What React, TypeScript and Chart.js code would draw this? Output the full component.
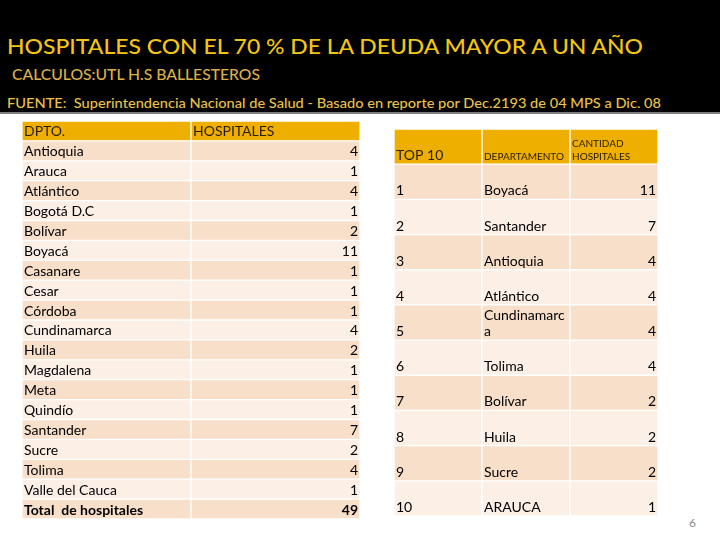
import React, { useEffect, useLayoutEffect, useRef } from "react";
import { Chart, registerables } from "chart.js";

Chart.register(...registerables);

// ---------- data ----------
const TITLE = "HOSPITALES CON EL 70 % DE LA DEUDA MAYOR A UN AÑO";
const SUBTITLE = "CALCULOS:UTL H.S BALLESTEROS";
const SOURCE = "FUENTE:  Superintendencia Nacional de Salud - Basado en reporte por Dec.2193 de 04 MPS a Dic. 08";
const PAGE_NUMBER = "6";

const deptHeaders = ["DPTO.", "HOSPITALES"];
const departments = [
  "Antioquia", "Arauca", "Atlántico", "Bogotá D.C", "Bolívar", "Boyacá",
  "Casanare", "Cesar", "Córdoba", "Cundinamarca", "Huila", "Magdalena",
  "Meta", "Quindío", "Santander", "Sucre", "Tolima", "Valle del Cauca",
];
const hospitals = [4, 1, 4, 1, 2, 11, 1, 1, 1, 4, 2, 1, 1, 1, 7, 2, 4, 1];
const totalLabel = "Total  de hospitales";
const totalValue = 49;

const topHeaders = ["TOP 10", "DEPARTAMENTO", "CANTIDAD HOSPITALES"];
const topRanks = [1, 2, 3, 4, 5, 6, 7, 8, 9, 10];
const topDepartments = [
  "Boyacá", "Santander", "Antioquia", "Atlántico", "Cundinamarca",
  "Tolima", "Bolívar", "Huila", "Sucre", "ARAUCA",
];
const topCounts = [11, 7, 4, 4, 4, 4, 2, 2, 2, 1];

// ---------- styles ----------
const FONT = "Lato, 'Open Sans', sans-serif";
const GOLD = "#eeaf00";
const ROW_DARK = "#f8dfca";
const ROW_LIGHT = "#fbefe6";
const HEADER_TEXT = "#2a1d00";

type CellStyle = { size: number; weight: string; color: string; align: "left" | "right"; lineHeight: number };

type TableSpec = {
  texts: string[][];
  rowColors: string[];
  style: (r: number, c: number) => CellStyle;
  valign: (r: number) => "middle" | "bottom";
  padX: number;
  padBottom: number;
};

function wrapText(ctx: CanvasRenderingContext2D, text: string, maxWidth: number): string[] {
  const words = text.split(" ");
  const lines: string[] = [];
  let line = "";
  for (const word of words) {
    const candidate = line ? line + " " + word : word;
    if (ctx.measureText(candidate).width <= maxWidth) {
      line = candidate;
      continue;
    }
    if (line) lines.push(line);
    // break a long word by characters
    let piece = "";
    for (const ch of word) {
      if (ctx.measureText(piece + ch).width > maxWidth && piece) {
        lines.push(piece);
        piece = ch;
      } else {
        piece += ch;
      }
    }
    line = piece;
  }
  if (line) lines.push(line);
  return lines;
}

function TableChart({ spec, left, top, width, height }: { spec: TableSpec; left: number; top: number; width: number; height: number }) {
  const ref = useRef<HTMLCanvasElement>(null);
  useEffect(() => {
    const canvas = ref.current;
    if (!canvas) return;
    const rows = spec.texts.length;
    const cols = spec.texts[0].length;
    const rowKeys = spec.texts.map((_, r) => `row${r}`);
    const datasets = Array.from({ length: cols }, (_, c) => ({
      label: `col${c}`,
      data: rowKeys.map(() => [c, c + 1]),
      backgroundColor: spec.rowColors,
      borderColor: "#ffffff",
      borderWidth: 1,
      borderSkipped: false,
      grouped: false,
      barPercentage: 1,
      categoryPercentage: 1,
    }));

    const textPlugin = {
      id: "cellText",
      afterDatasetsDraw(chart: any) {
        const ctx: CanvasRenderingContext2D = chart.ctx;
        ctx.save();
        for (let c = 0; c < cols; c++) {
          const meta = chart.getDatasetMeta(c);
          for (let r = 0; r < rows; r++) {
            const el = meta.data[r];
            if (!el) continue;
            const p = el.getProps(["x", "y", "base", "height"], true);
            const x0 = Math.min(p.x, p.base);
            const x1 = Math.max(p.x, p.base);
            const yb = p.y + p.height / 2;
            const st = spec.style(r, c);
            ctx.font = `${st.weight} ${st.size}px ${FONT}`;
            ctx.fillStyle = st.color;
            ctx.textAlign = st.align;
            const tx = st.align === "left" ? x0 + spec.padX : x1 - spec.padX;
            const lines = wrapText(ctx, spec.texts[r][c], x1 - x0 - 2 * spec.padX);
            if (spec.valign(r) === "middle") {
              ctx.textBaseline = "middle";
              const n = lines.length;
              lines.forEach((ln, i) => {
                ctx.fillText(ln, tx, p.y + (i - (n - 1) / 2) * st.lineHeight + 1);
              });
            } else {
              ctx.textBaseline = "alphabetic";
              const n = lines.length;
              lines.forEach((ln, i) => {
                ctx.fillText(ln, tx, yb - spec.padBottom - (n - 1 - i) * st.lineHeight);
              });
            }
          }
        }
        ctx.restore();
      },
    };

    const chart = new Chart(canvas, {
      type: "bar",
      data: { labels: rowKeys, datasets: datasets as any },
      options: {
        indexAxis: "y",
        animation: false,
        responsive: false,
        maintainAspectRatio: false,
        events: [],
        layout: { padding: 0 },
        scales: {
          x: { type: "linear", min: 0, max: cols, display: false },
          y: { type: "category", display: false, offset: true },
        },
        plugins: { legend: { display: false }, tooltip: { enabled: false } },
      } as any,
      plugins: [textPlugin],
    });
    return () => chart.destroy();
  }, [spec]);
  return (
    <canvas
      ref={ref}
      width={width}
      height={height}
      style={{ position: "absolute", left, top, width, height }}
    />
  );
}

function FitText({ text, left, top, width, size, color, weight }: { text: string; left: number; top: number; width: number; size: number; color: string; weight: number | string }) {
  const ref = useRef<HTMLSpanElement>(null);
  useLayoutEffect(() => {
    const el = ref.current;
    if (!el) return;
    el.style.transform = "none";
    const w = el.getBoundingClientRect().width;
    if (w > 0) el.style.transform = `scaleX(${width / w})`;
  }, [text, width]);
  return (
    <span
      ref={ref}
      style={{
        position: "absolute", left, top, fontSize: size, lineHeight: 1, whiteSpace: "pre",
        transformOrigin: "0 0", fontFamily: FONT, color, fontWeight: weight,
      }}
    >
      {text}
    </span>
  );
}

const altColor = (r: number) => (r === 0 ? GOLD : r % 2 === 1 ? ROW_DARK : ROW_LIGHT);

const leftTexts: string[][] = [
  deptHeaders,
  ...departments.map((d, i) => [d, String(hospitals[i])]),
  [totalLabel, String(totalValue)],
];
const leftSpec: TableSpec = {
  texts: leftTexts,
  rowColors: leftTexts.map((_, r) => altColor(r)),
  style: (r, c) => ({
    size: 14,
    weight: r === leftTexts.length - 1 ? "bold" : "normal",
    color: r === 0 ? HEADER_TEXT : "#000000",
    align: r === 0 || c === 0 ? "left" : "right",
    lineHeight: 16,
  }),
  valign: () => "middle",
  padX: 2,
  padBottom: 4,
};

const rightTexts: string[][] = [
  topHeaders,
  ...topRanks.map((rk, i) => [String(rk), topDepartments[i], String(topCounts[i])]),
];
const rightSpec: TableSpec = {
  texts: rightTexts,
  rowColors: rightTexts.map((_, r) => altColor(r)),
  style: (r, c) => {
    if (r === 0) {
      return { size: c === 0 ? 14 : 10, weight: "normal", color: HEADER_TEXT, align: "left", lineHeight: 13 };
    }
    return { size: 14, weight: "normal", color: "#000000", align: c === 2 ? "right" : "left", lineHeight: 16 };
  },
  valign: () => "bottom",
  padX: 2,
  padBottom: 4,
};

export default function App() {
  useEffect(() => {
    const prev = document.body.style.margin;
    document.body.style.margin = "0";
    return () => {
      document.body.style.margin = prev;
    };
  }, []);
  return (
    <div style={{ position: "relative", width: 720, height: 540, background: "#ffffff", overflow: "hidden" }}>
      <div style={{ position: "absolute", left: 0, top: 0, width: 720, height: 112, background: "#000000" }} />
      <div style={{ position: "absolute", left: 0, top: 112, width: 720, height: 2, background: "#7f7f7f" }} />
      <FitText text={TITLE} left={7} top={35} width={636} size={22} color="#f2c516" weight={500} />
      <FitText text={SUBTITLE} left={12} top={67} width={248} size={15} color="#dcae4c" weight={500} />
      <FitText text={SOURCE} left={7} top={96} width={654} size={14} color="#e8c24a" weight={500} />
      <TableChart spec={leftSpec} left={22} top={121} width={338} height={398} />
      <TableChart spec={rightSpec} left={394} top={129} width={264} height={387} />
      <span style={{ position: "absolute", left: 689, top: 517, fontSize: 12, fontFamily: FONT, color: "#8a8a8a", lineHeight: 1 }}>
        {PAGE_NUMBER}
      </span>
    </div>
  );
}
